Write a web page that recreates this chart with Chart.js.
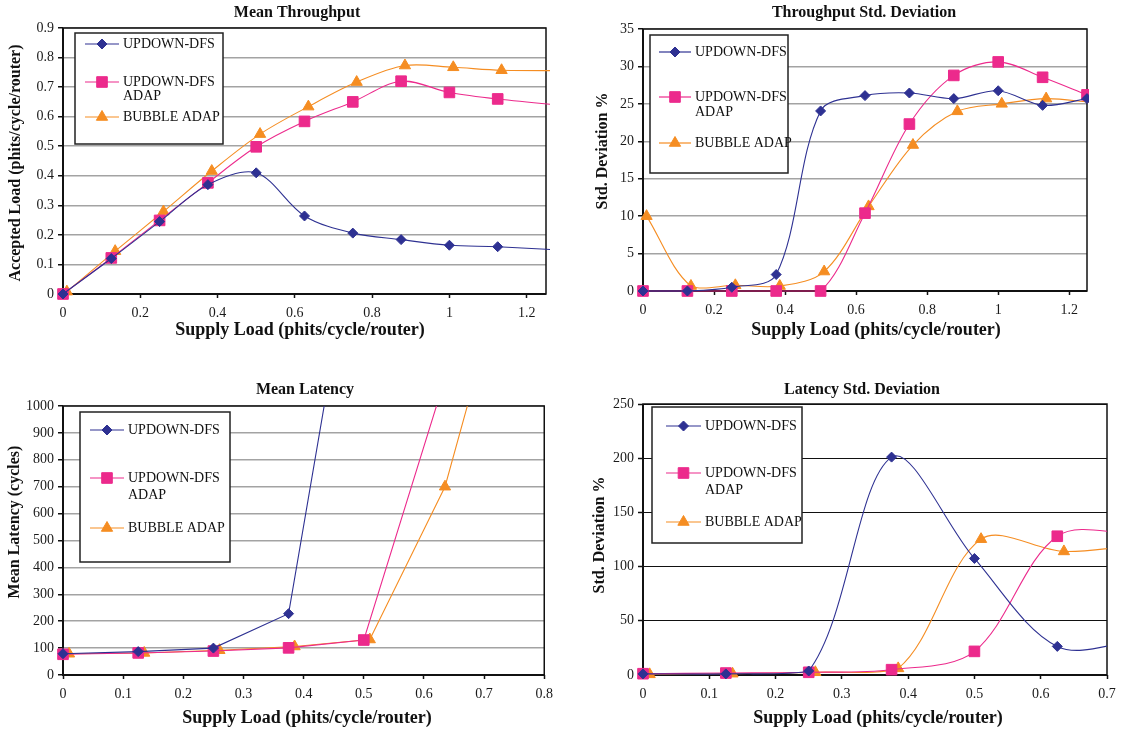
<!DOCTYPE html>
<html lang="en">
<head>
  <meta charset="UTF-8">
  <title>Throughput and Latency</title>
  <script src="https://cdn.jsdelivr.net/npm/chart.js"></script>
  <style>
    body { margin: 0; background: #fff; }
    .panel { position: absolute; }
  </style>
</head>
<body>
<div class="panel" style="left:0;top:0;width:560px;height:345px"><canvas id="tpMean"></canvas></div>
<div class="panel" style="left:560px;top:0;width:564px;height:345px"><canvas id="tpStd"></canvas></div>
<div class="panel" style="left:0;top:360px;width:560px;height:374px"><canvas id="latMean"></canvas></div>
<div class="panel" style="left:560px;top:360px;width:564px;height:374px"><canvas id="latStd"></canvas></div>

<script>
  // series names (legend rows can wrap onto two lines)
  const seriesNames = ['UPDOWN-DFS', 'UPDOWN-DFS ADAP', 'BUBBLE ADAP'];
  const legendLines = [['UPDOWN-DFS'], ['UPDOWN-DFS', 'ADAP'], ['BUBBLE ADAP']];

  // Mean Throughput
  const tpLoad       = [0, 0.125, 0.25, 0.375, 0.5, 0.625, 0.75, 0.875, 1, 1.125, 1.375];
  const tpLoadBubble = [0.01, 0.135, 0.26, 0.385, 0.51, 0.635, 0.76, 0.885, 1.01, 1.135, 1.385];
  const tpUpdown     = [0, 0.12, 0.245, 0.37, 0.41, 0.264, 0.206, 0.184, 0.165, 0.16, 0.142];
  const tpUpdownAdap = [0, 0.122, 0.249, 0.376, 0.498, 0.584, 0.65, 0.72, 0.682, 0.66, 0.628];
  const tpBubble     = [0.008, 0.145, 0.279, 0.416, 0.541, 0.634, 0.717, 0.773, 0.767, 0.757, 0.756];

  // Throughput Std. Deviation
  const sdLoad       = [0, 0.125, 0.25, 0.375, 0.5, 0.625, 0.75, 0.875, 1, 1.125, 1.25];
  const sdLoadBubble = [0.01, 0.135, 0.26, 0.385, 0.51, 0.635, 0.76, 0.885, 1.01, 1.135, 1.26];
  const sdUpdown     = [0, 0, 0.5, 2.2, 24.05, 26.1, 26.45, 25.7, 26.75, 24.8, 25.7];
  const sdUpdownAdap = [0, 0, 0, 0, 0, 10.4, 22.3, 28.8, 30.6, 28.55, 26.2];
  const sdBubble     = [10, 0.67, 0.76, 0.67, 2.6, 11.3, 19.5, 24, 25, 25.7, 25.2];

  // Mean Latency
  const latLoad       = [0, 0.125, 0.25, 0.375, 0.5, 0.625];
  const latLoadBubble = [0.01, 0.135, 0.26, 0.385, 0.51, 0.635, 0.76];
  const latUpdown     = [79, 87, 100, 228, 1860];
  const latUpdownAdap = [77, 82, 89, 101, 130, 1030];
  const latBubble     = [79, 82, 92, 106, 132, 700, 1710];

  // Latency Std. Deviation
  const lsdLoad       = [0, 0.125, 0.25, 0.375, 0.5, 0.625, 0.75];
  const lsdLoadBubble = [0.01, 0.135, 0.26, 0.385, 0.51, 0.635, 0.76];
  const lsdUpdown     = [1, 1, 3.7, 201, 107.5, 26.4, 32];
  const lsdUpdownAdap = [1.2, 1.8, 2.5, 4.9, 21.8, 128, 130];
  const lsdBubble     = [0.6, 1.2, 2.5, 6.1, 125.3, 114, 121];

  const SERIF = '"Liberation Serif", "Times New Roman", serif';
  const BLUE = '#2e3192', PINK = '#ec2a8c', ORANGE = '#f58d22';

  function series(i, xs, ys, color, style, r, tension, xMax) {
    return {
      label: seriesNames[i],
      data: ys.map((y, k) => ({ x: xs[k], y })),
      borderColor: color,
      backgroundColor: color,
      borderWidth: 1.1,
      pointStyle: style,
      markerR: r,
      pointRadius: c => (c.raw && c.raw.x > xMax) ? 0 : r,
      pointBorderWidth: 1,
      tension: tension
    };
  }

  // frame, titles and the boxed legend
  const panelDecor = {
    id: 'panelDecor',
    beforeDatasetsDraw(chart) {
      const { ctx, chartArea: a } = chart;
      ctx.save();
      ctx.strokeStyle = '#111';
      ctx.lineWidth = 1.5;
      ctx.strokeRect(a.left, a.top, a.right - a.left, a.bottom - a.top);
      ctx.lineWidth = 2;
      ctx.beginPath();
      ctx.moveTo(a.left, a.top);
      ctx.lineTo(a.left, a.bottom);
      ctx.lineTo(a.right, a.bottom);
      ctx.stroke();
      ctx.restore();
    },
    afterDatasetsDraw(chart, args, o) {
      const ctx = chart.ctx;
      ctx.save();
      ctx.fillStyle = '#111';
      ctx.textAlign = 'center';
      ctx.textBaseline = 'middle';
      ctx.font = 'bold 16px ' + SERIF;
      ctx.fillText(o.title, o.titlePos[0], o.titlePos[1]);
      ctx.font = 'bold 18px ' + SERIF;
      ctx.fillText(o.xTitle, o.xTitlePos[0], o.xTitlePos[1]);
      ctx.save();
      ctx.translate(o.yTitlePos[0], o.yTitlePos[1]);
      ctx.rotate(-Math.PI / 2);
      ctx.font = 'bold 16px ' + SERIF;
      ctx.fillText(o.yTitle, 0, 0);
      ctx.restore();

      const L = o.legend;
      ctx.fillStyle = '#fff';
      ctx.fillRect(L.x, L.y, L.w, L.h);
      ctx.strokeStyle = '#222';
      ctx.lineWidth = 1.5;
      ctx.strokeRect(L.x, L.y, L.w, L.h);
      chart.data.datasets.forEach((ds, i) => {
        const y = L.rows[i];
        ctx.strokeStyle = ds.borderColor;
        ctx.lineWidth = 1.2;
        ctx.beginPath();
        ctx.moveTo(L.x0, y);
        ctx.lineTo(L.x1, y);
        ctx.stroke();
        ctx.fillStyle = ds.backgroundColor;
        ctx.lineWidth = 1;
        Chart.helpers.drawPoint(ctx, { pointStyle: ds.pointStyle, radius: ds.markerR, rotation: 0, borderWidth: 1 },
          (L.x0 + L.x1) / 2, y);
        ctx.fillStyle = '#111';
        ctx.font = '14px ' + SERIF;
        ctx.textAlign = 'left';
        legendLines[i].forEach((t, k) => ctx.fillText(t, L.tx, y + k * L.gap));
      });
      ctx.restore();
    }
  };

  const fmt = v => String(Math.round(v * 100) / 100);

  function makeChart(id, p) {
    new Chart(document.getElementById(id), {
      type: 'line',
      data: { datasets: p.datasets.map(d => Object.assign(d, { clip: p.clip })) },
      options: {
        responsive: true,
        maintainAspectRatio: false,
        animation: false,
        events: [],
        layout: { padding: { left: 0, top: p.top, right: p.right, bottom: 0 } },
        plugins: {
          legend: { display: false },
          tooltip: { enabled: false },
          panelDecor: p.decor
        },
        scales: {
          x: {
            type: 'linear',
            min: 0, max: p.xMax,
            grid: { drawOnChartArea: false, drawTicks: true, tickLength: 4, tickColor: '#111', tickWidth: 1.5 },
            border: { display: false },
            ticks: {
              stepSize: p.xStep, includeBounds: false, autoSkip: false, maxRotation: 0,
              padding: 7, color: '#1a1a1a', font: { family: SERIF, size: 14 }, callback: fmt
            },
            afterFit: s => { s.height = p.xHeight; }
          },
          y: {
            min: 0, max: p.yMax,
            grid: { color: p.gridColor, lineWidth: p.gridWidth, drawTicks: true, tickLength: 5, tickColor: '#111', tickWidth: 1.5 },
            border: { display: false },
            ticks: {
              stepSize: p.yStep, padding: 4, color: '#1a1a1a', font: { family: SERIF, size: 14 }, callback: fmt
            },
            afterFit: s => { s.width = p.yWidth; }
          }
        }
      },
      plugins: [panelDecor]
    });
  }

  makeChart('tpMean', {
    top: 28, right: 14, yWidth: 63, xHeight: 51,
    xMax: 1.25, xStep: 0.2, yMax: 0.9, yStep: 0.1,
    gridColor: '#a3a3a3', gridWidth: 1.5,
    clip: { left: 10, top: 0, right: 4, bottom: 10 },
    datasets: [
      series(0, tpLoad, tpUpdown, BLUE, 'rectRot', 5, 0.33, 1.25),
      series(1, tpLoad, tpUpdownAdap, PINK, 'rect', 7.5, 0.33, 1.25),
      series(2, tpLoadBubble, tpBubble, ORANGE, 'triangle', 6.5, 0.33, 1.25)
    ],
    decor: {
      title: 'Mean Throughput', titlePos: [297, 13],
      xTitle: 'Supply Load (phits/cycle/router)', xTitlePos: [300, 330],
      yTitle: 'Accepted Load (phits/cycle/router)', yTitlePos: [16, 163],
      legend: { x: 75, y: 33, w: 148, h: 111, rows: [44, 82, 117], x0: 85, x1: 119, tx: 123, gap: 14 }
    }
  });

  makeChart('tpStd', {
    top: 29, right: 37, yWidth: 83, xHeight: 54,
    xMax: 1.25, xStep: 0.2, yMax: 35, yStep: 5,
    gridColor: '#a3a3a3', gridWidth: 1.5,
    clip: { left: 10, top: 0, right: 2, bottom: 10 },
    datasets: [
      series(0, sdLoad, sdUpdown, BLUE, 'rectRot', 5, 0.33, 1.25),
      series(1, sdLoad, sdUpdownAdap, PINK, 'rect', 7.5, 0.33, 1.25),
      series(2, sdLoadBubble, sdBubble, ORANGE, 'triangle', 6.5, 0.33, 1.25)
    ],
    decor: {
      title: 'Throughput Std. Deviation', titlePos: [304, 13],
      xTitle: 'Supply Load (phits/cycle/router)', xTitlePos: [316, 330],
      yTitle: 'Std. Deviation %', yTitlePos: [43, 151],
      legend: { x: 90, y: 35, w: 138, h: 138, rows: [52, 97, 143], x0: 99, x1: 131, tx: 135, gap: 15 }
    }
  });

  makeChart('latMean', {
    top: 46, right: 14, yWidth: 63, xHeight: 59,
    xMax: 0.8, xStep: 0.1, yMax: 1000, yStep: 100,
    gridColor: '#a3a3a3', gridWidth: 1.5,
    clip: { left: 10, top: 0, right: 0, bottom: 10 },
    datasets: [
      series(0, latLoad, latUpdown, BLUE, 'rectRot', 5, 0, 0.8),
      series(1, latLoad, latUpdownAdap, PINK, 'rect', 7.5, 0, 0.8),
      series(2, latLoadBubble, latBubble, ORANGE, 'triangle', 6.5, 0, 0.8)
    ],
    decor: {
      title: 'Mean Latency', titlePos: [305, 30],
      xTitle: 'Supply Load (phits/cycle/router)', xTitlePos: [307, 358],
      yTitle: 'Mean Latency (cycles)', yTitlePos: [15, 162],
      legend: { x: 80, y: 52, w: 150, h: 150, rows: [70, 118, 168], x0: 90, x1: 124, tx: 128, gap: 17 }
    }
  });

  makeChart('latStd', {
    top: 44, right: 17, yWidth: 83, xHeight: 59,
    xMax: 0.7, xStep: 0.1, yMax: 250, yStep: 50,
    gridColor: '#111', gridWidth: 1,
    clip: { left: 10, top: 0, right: 0, bottom: 8 },
    datasets: [
      series(0, lsdLoad, lsdUpdown, BLUE, 'rectRot', 5, 0.33, 0.7),
      series(1, lsdLoad, lsdUpdownAdap, PINK, 'rect', 7.5, 0.33, 0.7),
      series(2, lsdLoadBubble, lsdBubble, ORANGE, 'triangle', 6.5, 0.33, 0.7)
    ],
    decor: {
      title: 'Latency Std. Deviation', titlePos: [302, 30],
      xTitle: 'Supply Load (phits/cycle/router)', xTitlePos: [318, 358],
      yTitle: 'Std. Deviation %', yTitlePos: [40, 175],
      legend: { x: 92, y: 47, w: 150, h: 136, rows: [66, 113, 162], x0: 106, x1: 141, tx: 145, gap: 17 }
    }
  });
</script>
</body>
</html>
